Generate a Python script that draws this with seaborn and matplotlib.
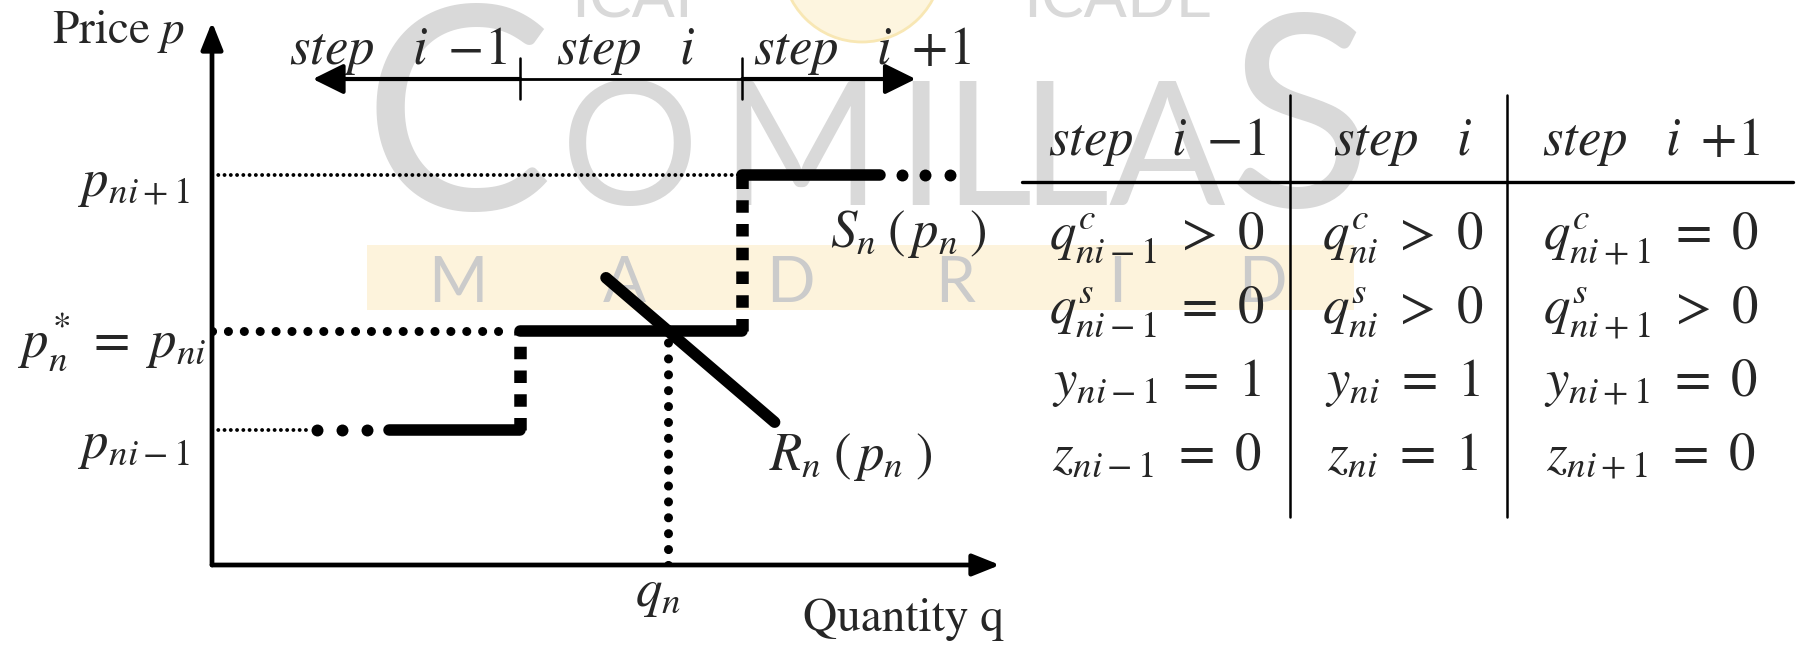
import matplotlib
matplotlib.use("Agg")
import matplotlib.pyplot as plt
from matplotlib.patches import Rectangle, Circle
import seaborn as sns

sns.set_theme(style="white")
plt.rcParams["font.family"] = ["STIXGeneral", "DejaVu Sans"]
plt.rcParams["mathtext.fontset"] = "stix"

# ---- supply offer of unit n (arbitrary quantity / price units, 0..100) ----
step_edges = [39.1, 67.3]            # quantity where step i starts / step i+1 starts
step_prices = [24.9, 43.1, 71.8]     # p_{ni-1}, p_{ni}, p_{ni+1}
step_lo_start = 22.5                 # visible start of step i-1
step_hi_end = 84.8                   # visible end of step i+1
lead_dots = [13.3, 16.5, 19.7]       # continuation dots before step i-1
trail_dots = [87.6, 90.5, 93.7]      # continuation dots after step i+1
big_dot_end = 37.1                   # end of the dotted guide at p_{ni}
fine_dot_end_lo = 12.7               # end of the dotted guide at p_{ni-1}

# ---- residual demand R_n(p_n) ----
demand_q = [50.0, 71.4]
demand_p = [52.9, 26.3]

# ---- step ruler above the plot ----
ruler_p = 89.5
ruler_ends = [12.8, 89.3]
ruler_tick = [85.9, 93.4]

# ---- table of binary / quantity states for each step ----
step_names = [r"$step\ \ \ i\ -\!1$", r"$step\ \ \ i$", r"$step\ \ \ i\ +\!1$"]
step_idx = ["ni-1", "ni", "ni+1"]
q_c_state = [">", ">", "="]
q_s_state = ["=", ">", ">"]
y_state = ["=", "=", "="]
z_state = ["=", "=", "="]
q_c_value = [0, 0, 0]
q_s_value = [0, 0, 0]
y_value = [1, 1, 0]
z_value = [0, 1, 0]

INK = "black"
FS = 38

fig = plt.figure(figsize=(18, 6.45), dpi=100)

# background canvas in pixel units (watermark + table)
bg = fig.add_axes([0, 0, 1, 1])
bg.set_xlim(0, 1800)
bg.set_ylim(645, 0)
bg.axis("off")

WM = "#d9d9d9"
bg.add_patch(Circle((862, -38), 80, facecolor="#fdf5df", edgecolor="#f8e7b4", lw=2, zorder=0))
bg.text(632, 18, "ICAI", fontsize=46, color=WM, family="Lato", ha="center", va="baseline", zorder=0)
bg.text(1118, 18, "ICADE", fontsize=46, color=WM, family="Lato", ha="center", va="baseline", zorder=0)
for ch, xc, size, base in [("C", 458, 205, 210), ("O", 630, 124, 205), ("M", 800, 124, 205),
                           ("I", 920, 124, 205), ("L", 987, 124, 205), ("L", 1064, 124, 205),
                           ("A", 1167, 124, 205), ("S", 1300, 192, 207)]:
    bg.text(xc, base, ch, fontsize=size, color=WM, family="Lato", ha="center", va="baseline", zorder=0)
bg.add_patch(Rectangle((367, 245), 987, 65, facecolor="#fdf3dc", edgecolor="none", zorder=0.5))
for ch, xc in zip("MADRID", [458, 624, 790, 955, 1117, 1262]):
    bg.text(xc, 302, ch, fontsize=46, color="#cbcbcb", family="Lato",
            ha="center", va="baseline", zorder=0.6)

# table
for xv in [1290, 1507]:
    bg.plot([xv, xv], [95, 517], color=INK, lw=1.8, zorder=3)
bg.plot([1022, 1793], [182, 182], color=INK, lw=2.4, zorder=3)
col_x = [1157, 1403, 1651]
row_base = [155, 249, 323, 396, 470]
for j in range(3):
    bg.text(col_x[j], row_base[0], step_names[j], fontsize=FS, ha="center", va="baseline", zorder=3)
    cells = [rf"$q^{{c}}_{{{step_idx[j]}}}\ {q_c_state[j]}\ {q_c_value[j]}$",
             rf"$q^{{s}}_{{{step_idx[j]}}}\ {q_s_state[j]}\ {q_s_value[j]}$",
             rf"$y_{{{step_idx[j]}}}\ {y_state[j]}\ {y_value[j]}$",
             rf"$z_{{{step_idx[j]}}}\ {z_state[j]}\ {z_value[j]}$"]
    for r, s in enumerate(cells):
        bg.text(col_x[j], row_base[r + 1], s, fontsize=FS, ha="center", va="baseline", zorder=3)

# diagram labels
bg.text(52, 43, r"Price $p$", fontsize=34, ha="left", va="baseline")
bg.text(803, 631, "Quantity q", fontsize=34, ha="left", va="baseline")
bg.text(190, 196, r"$p_{ni+1}$", fontsize=FS, ha="right", va="baseline")
bg.text(207, 357, r"$p_{n}^{*}\ =\ p_{ni}$", fontsize=FS, ha="right", va="baseline")
bg.text(190, 458, r"$p_{ni-1}$", fontsize=FS, ha="right", va="baseline")
bg.text(658, 606, r"$q_{n}$", fontsize=FS, ha="center", va="baseline")
bg.text(830, 247, r"$S_{n}\;(\,p_{n}\;)$", fontsize=FS, ha="left", va="baseline")
bg.text(769, 470, r"$R_{n}\;(\,p_{n}\;)$", fontsize=FS, ha="left", va="baseline")
for xc, name in zip([398, 626, 862], step_names):
    bg.text(xc, 64, name, fontsize=FS, ha="center", va="baseline")

# ---- price/quantity diagram ----
ax = fig.add_axes([212 / 1800, 80 / 645, 788 / 1800, 543 / 645])
ax.set_xlim(0, 100)
ax.set_ylim(0, 100)
ax.axis("off")
ax.patch.set_visible(False)

axis_arrow = dict(arrowstyle="-|>,head_length=0.75,head_width=0.3", color=INK, lw=3.4,
                  shrinkA=0, shrinkB=0, mutation_scale=22)
ax.annotate("", xy=(0, 100), xytext=(0, 0), arrowprops=axis_arrow, annotation_clip=False)
ax.annotate("", xy=(100, 0), xytext=(0, 0), arrowprops=axis_arrow, annotation_clip=False)

# step ruler
ruler_arrow = dict(arrowstyle="-|>,head_length=0.85,head_width=0.42", color=INK, lw=3.0,
                   shrinkA=0, shrinkB=0, mutation_scale=22)
ax.annotate("", xy=(ruler_ends[0], ruler_p), xytext=(step_edges[0], ruler_p),
            arrowprops=ruler_arrow, annotation_clip=False)
ax.annotate("", xy=(ruler_ends[1], ruler_p), xytext=(step_edges[1], ruler_p),
            arrowprops=ruler_arrow, annotation_clip=False)
ax.plot(step_edges, [ruler_p, ruler_p], color=INK, lw=2.0, clip_on=False)
for qe in step_edges:
    ax.plot([qe, qe], ruler_tick, color=INK, lw=1.8, clip_on=False)

# dotted price guides
fine_dots = dict(color=INK, lw=2.8, linestyle=(0, (0.01, 1.6)), dash_capstyle="round")
big_dots = dict(color=INK, lw=6.5, linestyle=(0, (0.01, 1.75)), dash_capstyle="round")
ax.plot([0, step_edges[1]], [step_prices[2]] * 2, **fine_dots)
ax.plot([0, big_dot_end], [step_prices[1]] * 2, **big_dots)
ax.plot([0, fine_dot_end_lo], [step_prices[0]] * 2, **fine_dots)

# bold offer steps
bold = dict(color=INK, linewidth=8.3, solid_capstyle="round", estimator=None, sort=False)
sns.lineplot(x=[step_lo_start, step_edges[0]], y=[step_prices[0]] * 2, ax=ax, **bold)
sns.lineplot(x=[step_edges[0], step_edges[1]], y=[step_prices[1]] * 2, ax=ax, **bold)
sns.lineplot(x=[step_edges[1], step_hi_end], y=[step_prices[2]] * 2, ax=ax, **bold)
ax.plot(lead_dots, [step_prices[0]] * 3, "o", color=INK, ms=8.6, mew=0)
ax.plot(trail_dots, [step_prices[2]] * 3, "o", color=INK, ms=8.6, mew=0, clip_on=False)

# dashed risers between steps
riser = dict(color=INK, lw=9.0, linestyle=(0, (1.0, 0.9)), dash_capstyle="butt")
ax.plot([step_edges[0]] * 2, [step_prices[0], step_prices[1]], **riser)
ax.plot([step_edges[1]] * 2, [step_prices[1], step_prices[2]], **riser)

# residual demand and clearing quantity
sns.lineplot(x=demand_q, y=demand_p, ax=ax, **bold)
slope = (demand_q[1] - demand_q[0]) / (demand_p[1] - demand_p[0])
q_clear = demand_q[0] + (step_prices[1] - demand_p[0]) * slope
ax.plot([q_clear, q_clear], [0, step_prices[1]], **big_dots)

fig.savefig("out.png", dpi=100)
